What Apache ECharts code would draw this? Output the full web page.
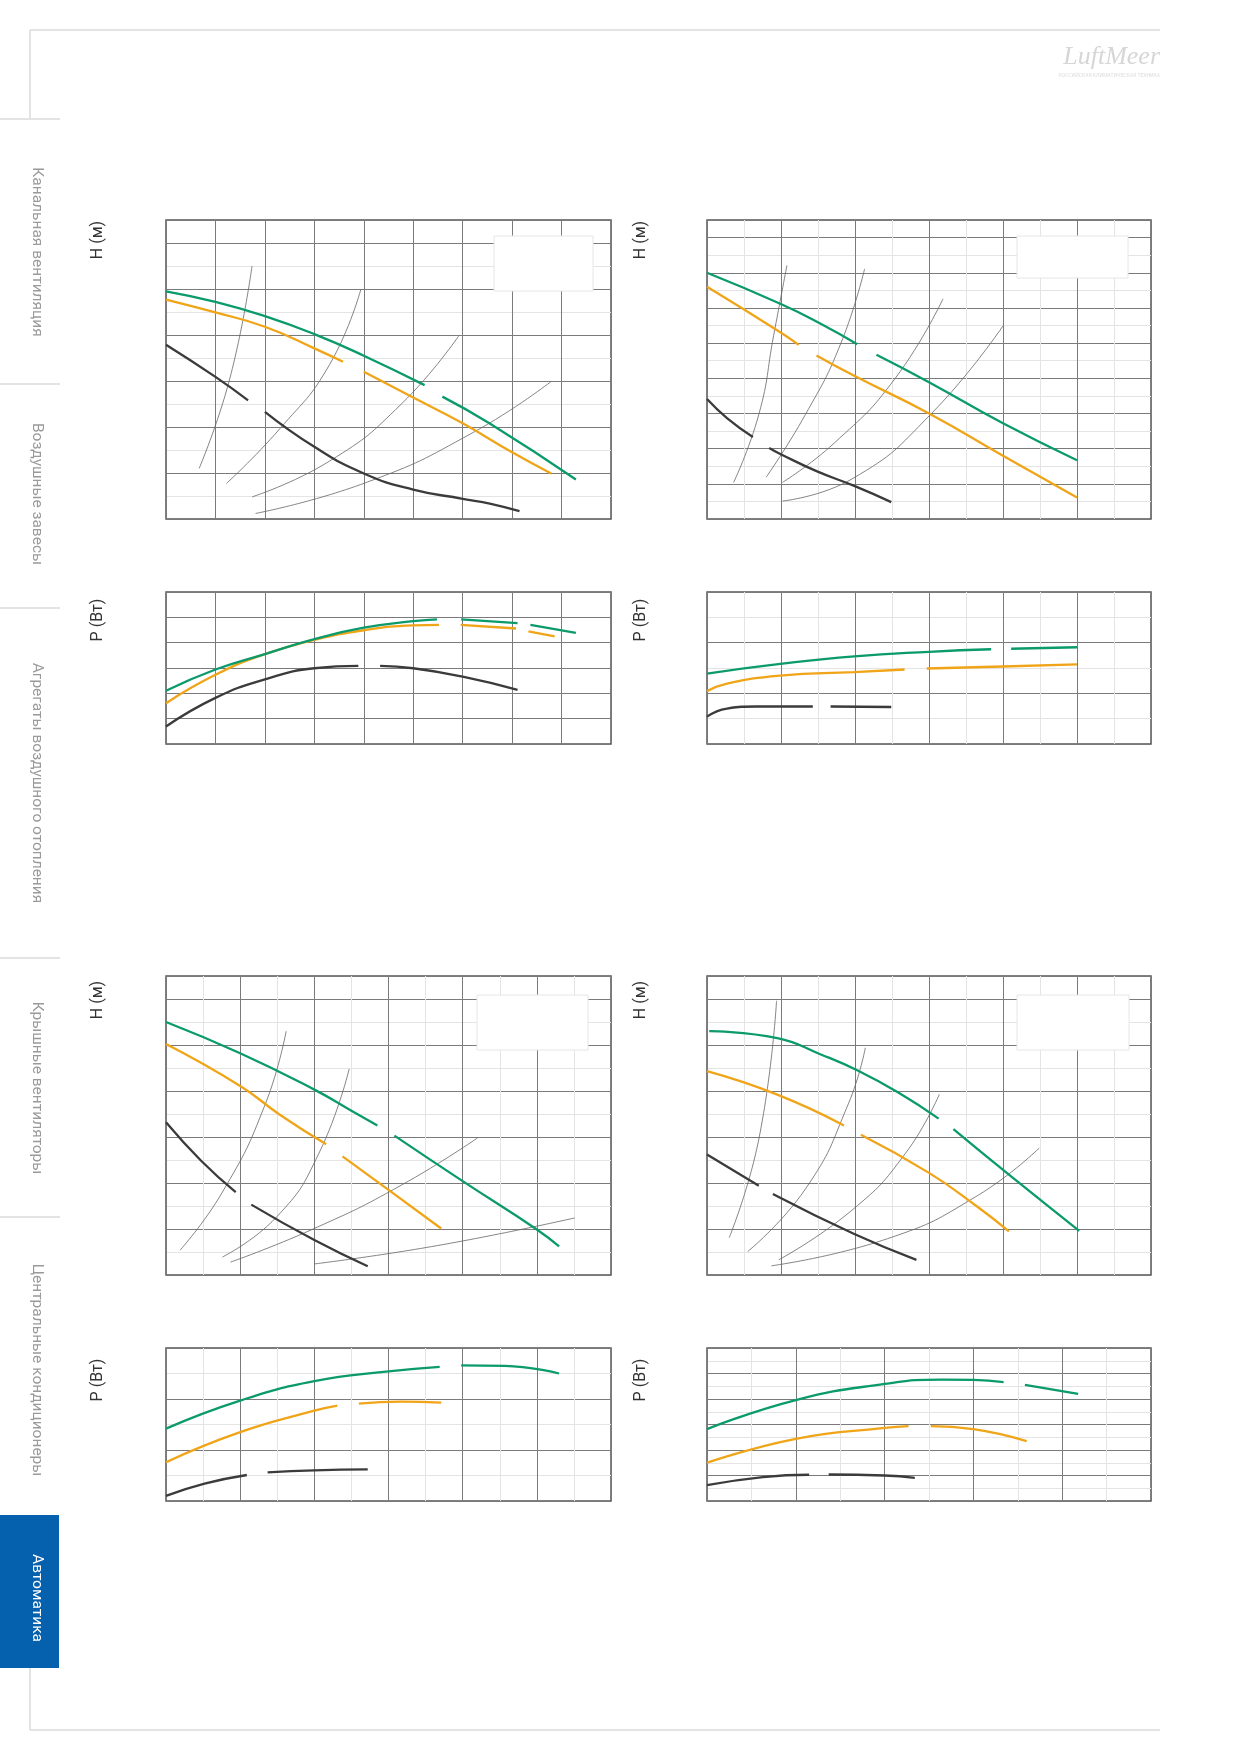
<!DOCTYPE html>
<html lang="ru">
<head>
<meta charset="UTF-8">
<title>Характеристики насосов</title>
<script src="https://cdn.jsdelivr.net/npm/echarts@6/dist/echarts.min.js"></script>
<style>html,body{margin:0;padding:0;background:#fff}</style>
</head>
<body>
<div id="main" style="width:1239px;height:1752px;"></div>
<script>
const G = null; // разрыв линии

// ---- верхний левый: H ----
const tlHGreen = [[0,4.95],[1,4.72],[2,4.41],[3,4.02],[4,3.55],[5.23,2.91],G,[5.59,2.66],[6.54,2.08],[8.29,0.86]];
const tlHOrange = [[0,4.77],[1,4.49],[2,4.18],[3,3.71],[3.58,3.42],G,[4,3.2],[5,2.64],[6,2.08],[7,1.45],[7.79,0.99]];
const tlHDark = [[0,3.79],[1,3.09],[1.66,2.58],G,[2,2.33],[3,1.57],[4,0.99],[5,0.64],[6,0.44],[6.57,0.33],[7.15,0.17]];
const tlHSys = [
  [[0.67,1.10],[1.29,3.05],[1.74,5.5]],
  [[1.22,0.77],[2.30,1.96],[3.31,3.36],[3.94,4.99]],
  [[1.74,0.48],[3.31,1.26],[4.76,2.50],[5.92,3.98]],
  [[1.81,0.12],[4.04,0.79],[6.21,1.88],[7.79,2.99]]
];
// ---- верхний левый: P ----
const tlPGreen = [[0,2.10],[1,2.94],[2,3.55],[3,4.14],[4,4.59],[5,4.85],[5.48,4.92],G,[5.97,4.92],[7.11,4.77],G,[7.37,4.70],[8.29,4.39]];
const tlPOrange = [[0,1.61],[1,2.73],[2,3.55],[3,4.11],[4,4.49],[5,4.68],[5.52,4.70],G,[5.96,4.70],[7.08,4.56],G,[7.33,4.45],[7.86,4.25]];
const tlPDark = [[0,0.69],[1,1.82],[2,2.55],[3,2.99],[3.89,3.08],G,[4.33,3.08],[5,2.99],[6,2.66],[7.11,2.14]];

// ---- верхний правый: H ----
const trHGreen = [[0,7.0],[0.99,6.12],[1.53,5.56],[2.03,4.97],G,[2.29,4.67],[3,3.89],[4,2.72],[5,1.67]];
const trHOrange = [[0,6.60],[0.99,5.31],[1.24,4.95],G,[1.48,4.65],[1.99,4.07],[3,3.0],[4,1.80],[5,0.61]];
const trHDark = [[0,3.41],[0.27,2.87],[0.62,2.33],G,[0.84,2.02],[0.99,1.85],[1.48,1.36],[1.99,0.94],[2.49,0.48]];
const trHSys = [
  [[0.36,1.04],[0.70,2.97],[0.90,5.21],[1.08,7.21]],
  [[0.80,1.19],[1.33,2.97],[1.81,5.0],[2.13,7.11]],
  [[1.02,1.04],[1.72,2.16],[2.54,3.99],[3.19,6.26]],
  [[1.02,0.51],[1.96,1.14],[3.02,2.97],[4.0,5.49]]
];
// ---- верхний правый: P ----
const trPGreen = [[0,1.39],[0.99,1.58],[1.99,1.73],[3,1.82],[3.84,1.87],G,[4.11,1.88],[5,1.91]];
const trPOrange = [[0,1.04],[0.27,1.19],[0.99,1.35],[1.99,1.42],[2.67,1.47],G,[2.97,1.49],[4,1.53],[5,1.57]];
const trPDark = [[0,0.54],[0.27,0.70],[0.66,0.74],[1.43,0.74],G,[1.67,0.74],[2.49,0.73]];

// ---- нижний левый: H ----
const blHGreen = [[0,5.50],[1,4.82],[2,4.03],[2.5,3.57],[2.85,3.25],G,[3.08,3.03],[4,2.04],[5,0.99],[5.30,0.62]];
const blHOrange = [[0,5.02],[1,4.11],[1.53,3.49],[2.16,2.84],G,[2.38,2.58],[3,1.85],[3.71,1.01]];
const blHDark = [[0,3.32],[0.47,2.49],[0.94,1.80],G,[1.15,1.53],[2,0.76],[2.72,0.19]];
const blHSys = [
  [[0.19,0.54],[0.76,1.80],[1.34,3.72],[1.62,5.30]],
  [[0.76,0.39],[1.49,1.26],[2.06,2.64],[2.47,4.48]],
  [[0.87,0.28],[1.97,0.99],[3.17,1.95],[4.20,2.98]],
  [[2,0.24],[3.66,0.64],[5.51,1.24]]
];
// ---- нижний левый: P ----
const blPGreen = [[0,1.42],[1,1.97],[2,2.35],[3,2.54],[3.69,2.63],G,[3.98,2.66],[4.57,2.65],[5.30,2.50]];
const blPOrange = [[0,0.76],[1,1.35],[2,1.77],[2.31,1.87],G,[2.60,1.91],[3.17,1.95],[3.71,1.93]];
const blPDark = [[0,0.10],[0.52,0.34],[1.09,0.51],G,[1.37,0.56],[2,0.60],[2.72,0.62]];

// ---- нижний правый: H ----
const brHGreen = [[0.03,5.30],[0.95,5.15],[1.53,4.80],[2.03,4.45],[2.59,3.96],[3.13,3.40],G,[3.33,3.17],[4.08,2.18],[5.03,0.96]];
const brHOrange = [[0,4.43],[0.95,3.92],[1.85,3.25],G,[2.08,3.05],[3,2.22],[3.65,1.49],[4.08,0.95]];
const brHDark = [[0,2.62],[0.70,1.94],G,[0.89,1.76],[1.99,0.89],[2.83,0.33]];
const brHSys = [
  [[0.30,0.81],[0.70,2.95],[0.94,5.96]],
  [[0.55,0.51],[1.33,1.87],[1.91,3.72],[2.14,4.94]],
  [[0.97,0.33],[1.96,1.41],[2.68,2.64],[3.14,3.93]],
  [[0.87,0.20],[2.44,0.79],[3.65,1.72],[4.49,2.76]]
];
// ---- нижний правый: P ----
const brPGreen = [[0,2.82],[1,3.96],[2,4.59],[2.64,4.76],[3,4.75],[3.34,4.66],G,[3.58,4.55],[4.18,4.20]];
const brPOrange = [[0,1.50],[1,2.44],[2,2.87],[2.27,2.94],G,[2.52,2.94],[3,2.82],[3.60,2.35]];
const brPDark = [[0,0.62],[0.63,0.94],[1.15,1.03],G,[1.37,1.04],[2,1.00],[2.34,0.91]];

const tabs = ['Канальная вентиляция','Воздушные завесы','Агрегаты воздушного отопления','Крышные вентиляторы','Центральные кондиционеры'];
const tabCenters = [252, 494, 783, 1088, 1370];
const tabDividers = [119, 384, 608, 958, 1217];

const GREEN = '#0a9a6c', ORANGE = '#f0a417', DARK = '#3b3b3b';

// панели: [left, top, width, height, xMax, xMinor, yMax, yMinor]
const panels = [
  [166,220,445,299, 9,false, 6.5,true],
  [166,592,445,152, 9,false, 6,false],
  [707,220,444,299, 6,true, 8.5,true],
  [707,592,444,152, 6,true, 3,true],
  [166,976,445,299, 6,true, 6.5,true],
  [166,1348,445,153, 6,true, 3,true],
  [707,976,444,299, 6,true, 6.5,true],
  [707,1348,444,153, 5,true, 6,true]
];

const grid = [], xAxis = [], yAxis = [];
panels.forEach(p => {
  grid.push({left:p[0], top:p[1], width:p[2], height:p[3], show:true, borderColor:'#555', borderWidth:1.5, backgroundColor:'#fff'});
  const ax = (max, minor) => ({
    type:'value', min:0, max:max, interval:1, gridIndex:grid.length-1,
    axisLine:{show:false}, axisTick:{show:false}, axisLabel:{show:false},
    splitLine:{show:true, lineStyle:{color:'#7a7a7a', width:1}},
    minorTick:{show:false, splitNumber:2},
    minorSplitLine:{show:minor, lineStyle:{color:'#e4e4e4', width:1}}
  });
  xAxis.push(ax(p[4], p[5]));
  yAxis.push(ax(p[6], p[7]));
});

const series = [];
function curve(idx, data, color, width) {
  series.push({type:'line', xAxisIndex:idx, yAxisIndex:idx, data:data, showSymbol:false, smooth:0.5,
    connectNulls:false, silent:true, lineStyle:{color:color, width:width}, z: width > 1 ? 3 : 2});
}
function panel(idx, g, o, d, sys) {
  (sys || []).forEach(s => curve(idx, s, '#666', 0.8));
  curve(idx, d, DARK, 2.3);
  curve(idx, o, ORANGE, 2.3);
  curve(idx, g, GREEN, 2.3);
}
panel(0, tlHGreen, tlHOrange, tlHDark, tlHSys);
panel(1, tlPGreen, tlPOrange, tlPDark);
panel(2, trHGreen, trHOrange, trHDark, trHSys);
panel(3, trPGreen, trPOrange, trPDark);
panel(4, blHGreen, blHOrange, blHDark, blHSys);
panel(5, blPGreen, blPOrange, blPDark);
panel(6, brHGreen, brHOrange, brHDark, brHSys);
panel(7, brPGreen, brPOrange, brPDark);

const gfx = [];
const line = (x1,y1,x2,y2,c,w) => gfx.push({type:'line', shape:{x1,y1,x2,y2}, style:{stroke:c||'#e3e3e3', lineWidth:w||2}});
// рамка страницы
line(30,30,1160,30); line(30,30,30,119);
line(30,1668,30,1730); line(30,1730,1160,1730);
tabDividers.forEach(y => line(0,y,60,y));
tabs.forEach((t,i) => gfx.push({type:'text', x:37, y:tabCenters[i], rotation:-Math.PI/2,
  style:{text:t, fill:'#9a9a9a', font:'15.5px Roboto', textAlign:'center', textVerticalAlign:'middle'}}));
gfx.push({type:'rect', shape:{x:0,y:1515,width:59,height:153}, style:{fill:'#0560ad'}});
gfx.push({type:'text', x:37, y:1598, rotation:-Math.PI/2, z:10,
  style:{text:'Автоматика', fill:'#fff', font:'15.5px Roboto', textAlign:'center', textVerticalAlign:'middle'}});
// логотип
gfx.push({type:'text', x:1160, y:57, style:{text:'LuftMeer', fill:'#d6d6d6', font:'italic 26px "Liberation Serif"', textAlign:'right', textVerticalAlign:'middle'}});
gfx.push({type:'text', x:1160, y:76, style:{text:'РОССИЙСКАЯ КЛИМАТИЧЕСКАЯ ТЕХНИКА', fill:'#dcdcdc', font:'5px Roboto', textAlign:'right', textVerticalAlign:'middle'}});
// подписи осей
[[98,240,'H (м)'],[98,620,'P (Вт)'],[641,240,'H (м)'],[641,620,'P (Вт)'],
 [98,1000,'H (м)'],[98,1380,'P (Вт)'],[641,1000,'H (м)'],[641,1380,'P (Вт)']].forEach(a =>
  gfx.push({type:'text', x:a[0], y:a[1], rotation:Math.PI/2,
    style:{text:a[2], fill:'#333', font:'16px Roboto', textAlign:'center', textVerticalAlign:'middle'}}));
// пустые белые поля легенд
[[494,236,99,55],[1017,236,111,42],[477,995,111,55],[1017,995,112,55]].forEach(r =>
  gfx.push({type:'rect', z:20, shape:{x:r[0],y:r[1],width:r[2],height:r[3]}, style:{fill:'#fff', stroke:'#e6e6e6', lineWidth:1}}));

const chart = echarts.init(document.getElementById('main'));
chart.setOption({animation:false, grid, xAxis, yAxis, series, graphic:gfx});
</script>
</body>
</html>
